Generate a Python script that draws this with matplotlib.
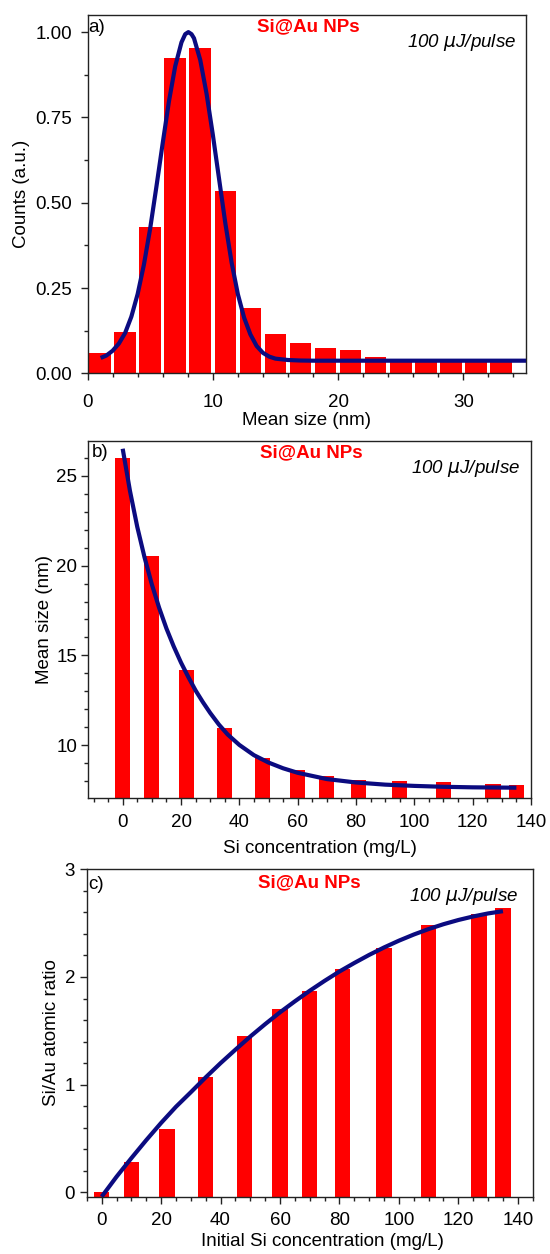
import matplotlib
matplotlib.use("Agg")
import matplotlib.pyplot as plt
from matplotlib.ticker import MultipleLocator, FormatStrFormatter

plt.rcParams['font.family'] = ['Liberation Sans', 'DejaVu Sans']

# ---------------- data ----------------
# panel a: size histogram
a_centers = [1, 3, 5, 7, 9, 11, 13, 15, 17, 19, 21, 23, 25, 27, 29, 31, 33]
a_counts = [0.059, 0.121, 0.428, 0.925, 0.954, 0.535, 0.192, 0.115, 0.088,
            0.073, 0.068, 0.049, 0.042, 0.042, 0.042, 0.042, 0.042]
a_fit_x = [1.05, 1.5, 2.0, 2.5, 3.0, 3.5, 4.0, 4.5, 5.0, 5.5, 6.0, 6.5, 7.0,
           7.5, 7.8, 8.05, 8.3, 8.5, 9.0, 9.5, 10.0, 10.5, 11.0, 11.5, 12.0,
           12.5, 13.0, 13.5, 14.0, 14.5, 15.0, 16.0, 17.0, 18.0, 22.0, 26.0,
           30.0, 35.0]
a_fit_y = [0.045, 0.052, 0.066, 0.087, 0.118, 0.166, 0.232, 0.318, 0.424,
           0.547, 0.674, 0.797, 0.900, 0.970, 0.994, 1.000, 0.994, 0.982,
           0.918, 0.820, 0.700, 0.570, 0.440, 0.325, 0.232, 0.163, 0.114,
           0.080, 0.060, 0.049, 0.043, 0.039, 0.0375, 0.037, 0.037, 0.037,
           0.037, 0.037]

# panel b: mean size vs Si concentration
si_conc = [0, 10, 22, 35, 48, 60, 70, 81, 95, 110, 127, 135]
b_size = [26.0, 20.51, 14.19, 10.94, 9.31, 8.60, 8.27, 8.07, 8.01, 7.96, 7.85, 7.81]
b_fit_x = [0, 2.5, 5, 7.5, 10, 12.5, 15, 17.5, 20, 22.5, 25, 27.5, 30, 33,
           36, 40, 45, 50, 55, 60, 70, 80, 90, 100, 110, 120, 135]
b_fit_y = [26.5, 24.15, 22.15, 20.45, 18.95, 17.65, 16.5, 15.5, 14.6, 13.8,
           13.05, 12.4, 11.8, 11.15, 10.6, 10.02, 9.45, 9.04, 8.72, 8.47,
           8.12, 7.93, 7.81, 7.74, 7.69, 7.66, 7.64]

# panel c: Si/Au atomic ratio
c_ratio = [0.005, 0.285, 0.591, 1.068, 1.452, 1.706, 1.870, 2.071, 2.269,
           2.483, 2.585, 2.638]
c_fit_x = [0, 5, 10, 15, 20, 25, 30, 35, 40, 45, 50, 55, 60, 65, 70, 75, 80,
           85, 90, 95, 100, 105, 110, 115, 120, 125, 130, 135]
c_fit_y = [-0.04, 0.145, 0.318, 0.485, 0.645, 0.795, 0.93, 1.068, 1.20, 1.325,
           1.447, 1.562, 1.672, 1.774, 1.872, 1.964, 2.051, 2.130, 2.205,
           2.274, 2.337, 2.394, 2.445, 2.490, 2.529, 2.562, 2.590, 2.611]

# ---------------- style ----------------
RED = '#ff0000'
NAVY = '#0b0b80'
FS = 13.5
fig = plt.figure(figsize=(5.5, 12.54), dpi=100)

ax_a = fig.add_axes([0.1591, 0.7023, 0.7973, 0.2857])
ax_b = fig.add_axes([0.1605, 0.3634, 0.8049, 0.2852])
ax_c = fig.add_axes([0.1578, 0.0457, 0.8107, 0.2611])


def style(ax, xpad, ypad):
    for s in ax.spines.values():
        s.set_linewidth(1.0)
        s.set_color('#222222')
    ax.tick_params(which='both', direction='out', top=False, right=False,
                   labelsize=FS, color='#222222')
    ax.tick_params(which='major', length=5, width=1.0)
    ax.tick_params(which='minor', length=2.8, width=1.0)
    ax.tick_params(axis='x', which='major', pad=xpad)
    ax.tick_params(axis='y', which='major', pad=ypad)


def labels(ax, xlabel, ylabel, xl, yl):
    ax.set_xlabel(xlabel, fontsize=FS)
    ax.set_ylabel(ylabel, fontsize=FS)
    ax.xaxis.set_label_coords(*xl)
    ax.xaxis.label.set_va('top')
    ax.yaxis.set_label_coords(*yl)
    ax.yaxis.label.set_va('center')


def annotate(ax, letter, lpos, npos, ppos):
    ax.text(lpos[0], lpos[1], letter, transform=ax.transAxes, ha='left',
            va='top', fontsize=13.5)
    ax.text(npos[0], npos[1], 'Si@Au NPs', transform=ax.transAxes,
            ha='center', va='top', fontsize=13.5, fontweight='bold', color=RED)
    ax.text(ppos[0], ppos[1], '100 $\\mu$J/pulse', transform=ax.transAxes,
            ha='right', va='top', fontsize=13.5, style='italic')


# panel a
ax_a.bar(a_centers, a_counts, width=1.72, color=RED, linewidth=0, zorder=1)
ax_a.plot(a_fit_x, a_fit_y, color=NAVY, lw=3.0, solid_capstyle='butt',
          solid_joinstyle='round', zorder=3)
ax_a.set_xlim(0, 35)
ax_a.set_ylim(0, 1.05)
ax_a.xaxis.set_major_locator(MultipleLocator(10))
ax_a.xaxis.set_minor_locator(MultipleLocator(2))
ax_a.yaxis.set_major_locator(MultipleLocator(0.25))
ax_a.yaxis.set_minor_locator(MultipleLocator(0.125))
ax_a.yaxis.set_major_formatter(FormatStrFormatter('%.2f'))
style(ax_a, 10.0, 6.0)
labels(ax_a, 'Mean size (nm)', 'Counts (a.u.)', (0.5, -0.108), (-0.150, 0.5))
annotate(ax_a, 'a)', (0.001, 0.99), (0.503, 0.990), (0.9765, 0.952))

# panel b
ax_b.bar(si_conc, b_size, width=5.2, color=RED, linewidth=0, zorder=1)
ax_b.plot(b_fit_x, b_fit_y, color=NAVY, lw=3.0, solid_capstyle='butt',
          solid_joinstyle='round', zorder=3)
ax_b.set_xlim(-11.8, 140)
ax_b.set_ylim(7.05, 26.95)
ax_b.xaxis.set_major_locator(MultipleLocator(20))
ax_b.xaxis.set_minor_locator(MultipleLocator(5))
ax_b.yaxis.set_major_locator(MultipleLocator(5))
ax_b.yaxis.set_minor_locator(MultipleLocator(1))
style(ax_b, 6.0, 2.8)
labels(ax_b, 'Si concentration (mg/L)', 'Mean size (nm)', (0.524, -0.117),
       (-0.100, 0.5))
annotate(ax_b, 'b)', (0.0075, 0.99), (0.504, 0.990), (0.975, 0.951))

# panel c
c_base = -0.04
ax_c.bar(si_conc, [v - c_base for v in c_ratio], bottom=c_base, width=5.2,
         color=RED, linewidth=0, zorder=1)
ax_c.plot(c_fit_x, c_fit_y, color=NAVY, lw=3.0, solid_capstyle='butt',
          solid_joinstyle='round', zorder=3)
ax_c.set_xlim(-5, 145)
ax_c.set_ylim(c_base, 3)
ax_c.xaxis.set_major_locator(MultipleLocator(20))
ax_c.xaxis.set_minor_locator(MultipleLocator(5))
ax_c.yaxis.set_major_locator(MultipleLocator(1))
ax_c.yaxis.set_minor_locator(MultipleLocator(0.2))
style(ax_c, 5.8, 3.4)
labels(ax_c, 'Initial Si concentration (mg/L)', 'Si/Au atomic ratio',
       (0.529, -0.110), (-0.079, 0.5))
annotate(ax_c, 'c)', (0.003, 0.978), (0.499, 0.984), (0.9675, 0.949))

fig.savefig('out.png', dpi=100)
